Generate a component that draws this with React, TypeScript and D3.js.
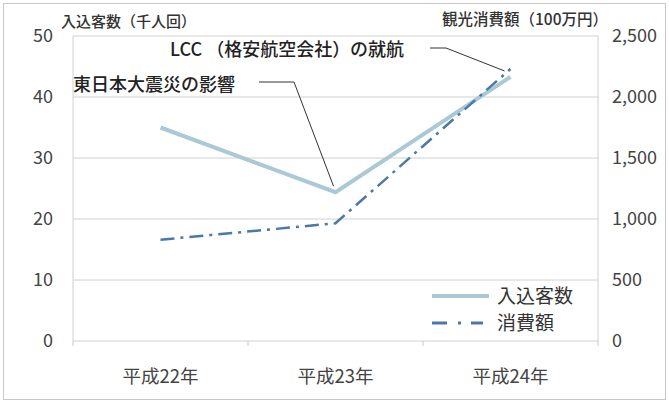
import React from "react";
import * as d3 from "d3";

const categories = ["平成22年", "平成23年", "平成24年"];
const visitors = [35, 24.4, 43.3];
const spending = [830, 965, 2230];
const leftTicks = [0, 10, 20, 30, 40, 50];
const rightTicks = [0, 500, 1000, 1500, 2000, 2500];

const W = 669, H = 403;
const left = 73, right = 598, top = 36, bottom = 341;
const FONT = "'Noto Sans CJK JP', 'Noto Sans', sans-serif";

export default function App() {
  const x = d3.scaleBand<string>().domain(categories).range([left, right]);
  const cx = (c: string) => (x(c) as number) + x.bandwidth() / 2;
  const yL = d3.scaleLinear().domain([0, 50]).range([bottom, top]);
  const yR = d3.scaleLinear().domain([0, 2500]).range([bottom, top]);
  const lineL = d3.line<number>().x((_, i) => cx(categories[i])).y((d) => yL(d));
  const lineR = d3.line<number>().x((_, i) => cx(categories[i])).y((d) => yR(d));
  const p23 = [cx(categories[1]), yL(visitors[1])];
  const p24 = [cx(categories[2]), yR(spending[2])];
  const tickXs = [left, ...categories.map((c) => (x(c) as number) + x.bandwidth())];
  const dash = "14 6 3 6";
  return (
    <svg width={W} height={H} style={{ position: "absolute", left: 0, top: 0, background: "#fff" }} fontFamily={FONT}>
      <rect x={3.5} y={3.5} width={W - 7} height={H - 7} fill="#fff" stroke="#c8c8c8" />
      {leftTicks.map((t) => (
        <line key={"g" + t} x1={left} x2={right} y1={yL(t)} y2={yL(t)} stroke="#d0d0d0" strokeWidth={1} />
      ))}
      <line x1={left} x2={left} y1={top} y2={bottom} stroke="#d0d0d0" />
      <line x1={right} x2={right} y1={top} y2={bottom} stroke="#d0d0d0" />
      {tickXs.map((t, i) => (
        <line key={"t" + i} x1={t} x2={t} y1={bottom} y2={bottom + 5} stroke="#c8c8c8" />
      ))}
      {leftTicks.map((t) => (
        <text key={"l" + t} x={53} y={yL(t)} dy="0.35em" textAnchor="end" fontSize={18} fill="#444">{t}</text>
      ))}
      {rightTicks.map((t) => (
        <text key={"r" + t} x={612} y={yR(t)} dy="0.35em" textAnchor="start" fontSize={18} fill="#444">{d3.format(",")(t)}</text>
      ))}
      {categories.map((c) => (
        <text key={c} x={cx(c)} y={377} dy="0.35em" textAnchor="middle" fontSize={18.5} fill="#444">{c}</text>
      ))}
      <text x={61} y={27} fontSize={15} fill="#333" fontWeight={500}>入込客数（千人回）</text>
      <text x={608} y={25} fontSize={15.5} textAnchor="end" fill="#333" fontWeight={500}>観光消費額（100万円）</text>

      <path d={lineL(visitors) as string} fill="none" stroke="#a9c9d6" strokeWidth={4} />
      <path d={lineR(spending) as string} fill="none" stroke="#4a78a8" strokeWidth={2.5} strokeDasharray={dash} />

      <text x={73} y={91} fontSize={18} fill="#222" fontWeight={500}>東日本大震災の影響</text>
      <polyline points={`259,82 294,82 ${p23[0] - 2},${p23[1] - 6}`} fill="none" stroke="#333" strokeWidth={1} />
      <text x={170} y={56} fontSize={18} fill="#222" fontWeight={500}>LCC （格安航空会社）の就航</text>
      <polyline points={`430,48 446,48 ${p24[0] - 6},${p24[1] + 2}`} fill="none" stroke="#333" strokeWidth={1} />

      <line x1={432} x2={489} y1={296} y2={296} stroke="#a9c9d6" strokeWidth={4} />
      <text x={497} y={296} dy="0.35em" fontSize={19} fill="#333">入込客数</text>
      <line x1={432} x2={483} y1={323} y2={323} stroke="#4a78a8" strokeWidth={3} strokeDasharray="15 11 3 10" />
      <text x={497} y={323} dy="0.35em" fontSize={19} fill="#333">消費額</text>
    </svg>
  );
}
